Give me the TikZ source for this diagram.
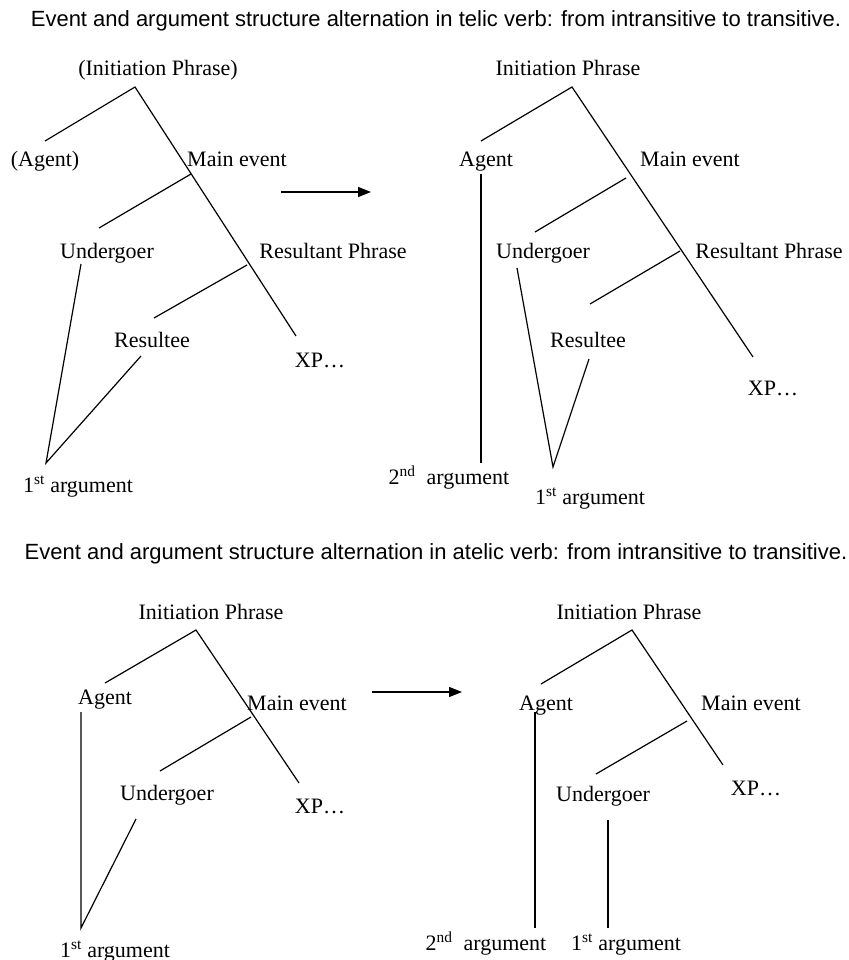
\documentclass[tikz,border=0pt]{standalone}
\usepackage{fontspec}
\setmainfont{Liberation Serif}
\newfontfamily\titlefont{Liberation Sans}
\usetikzlibrary{arrows.meta}
\begin{document}
\begin{tikzpicture}[x=1pt,y=-1pt,
  lbl/.style={font=\fontsize{22}{26}\selectfont, inner sep=0pt, anchor=base},
  ttl/.style={font=\titlefont\fontsize{22}{26}\selectfont, inner sep=0pt, anchor=base},
  br/.style={line width=1.2pt, black},
  arr/.style={line width=1.2pt, -{Triangle[length=13pt,width=10pt]}}]
\useasboundingbox[fill=white] (0,0) rectangle (848,960);

% titles
\node[ttl] (t1) at (436,27) {Event and argument structure alternation in telic verb: from intransitive to transitive.};
\node[ttl] (t2) at (436,559) {Event and argument structure alternation in atelic verb: from intransitive to transitive.};

% ---------- top-left ----------
\node[lbl] (tlIP) at (158,76) {(Initiation Phrase)};
\node[lbl] (tlAg) at (45,167) {(Agent)};
\node[lbl] (tlME) at (237,167) {Main event};
\node[lbl] (tlUn) at (107,258) {Undergoer};
\node[lbl] (tlRP) at (333,258) {Resultant Phrase};
\node[lbl] (tlRe) at (152,347) {Resultee};
\node[lbl] (tlXP) at (320,367) {XP…};
\node[lbl] (tlA1) at (78,492) {1\textsuperscript{st} argument};
\coordinate (tlr) at (135,87);
\coordinate (tla) at (45,141);
\coordinate (tlx) at (296,336);
\coordinate (tlm) at (191,174);
\coordinate (tlu) at (99,228);
\coordinate (tlrp) at (247,265);
\coordinate (tlre) at (154,318);
\coordinate (tlu2) at (81,264);
\coordinate (tlre2) at (141,356);
\coordinate (tl1) at (46,463);
\draw[br] (tla) -- (tlr) -- (tlx);
\draw[br] (tlm) -- (tlu);
\draw[br] (tlrp) -- (tlre);
\draw[br] (tlu2) -- (tl1) -- (tlre2);

% arrow top
\coordinate (a1s) at (281,192);
\coordinate (a1e) at (371,192);
\draw[arr] (a1s) -- (a1e);

% ---------- top-right ----------
\node[lbl] (trIP) at (568,76) {Initiation Phrase};
\node[lbl] (trAg) at (486,167) {Agent};
\node[lbl] (trME) at (690,167) {Main event};
\node[lbl] (trUn) at (543,258) {Undergoer};
\node[lbl] (trRP) at (769,258) {Resultant Phrase};
\node[lbl] (trRe) at (588,347) {Resultee};
\node[lbl] (trXP) at (773,395) {XP…};
\node[lbl] (trA2) at (449,484) {2\textsuperscript{nd}~ argument};
\node[lbl] (trA1) at (590,504) {1\textsuperscript{st} argument};
\coordinate (trr) at (572,87);
\coordinate (tra) at (481,141);
\coordinate (trx) at (753,357);
\coordinate (trm) at (626,178);
\coordinate (tru) at (535,232);
\coordinate (trrp) at (680,251);
\coordinate (trre) at (590,304);
\coordinate (trag) at (481,174);
\coordinate (tr2) at (481,463);
\coordinate (tru2) at (517,268);
\coordinate (tr1) at (553,467);
\coordinate (trre2) at (589,359);
\draw[br] (tra) -- (trr) -- (trx);
\draw[br] (trm) -- (tru);
\draw[br] (trrp) -- (trre);
\draw[br] (trag) -- (tr2);
\draw[br] (tru2) -- (tr1) -- (trre2);

% ---------- bottom-left ----------
\node[lbl] (blIP) at (211,619) {Initiation Phrase};
\node[lbl] (blAg) at (105,704) {Agent};
\node[lbl] (blME) at (297,710) {Main event};
\node[lbl] (blUn) at (167,800) {Undergoer};
\node[lbl] (blXP) at (320,813) {XP…};
\node[lbl] (blA1) at (115,957) {1\textsuperscript{st} argument};
\coordinate (blr) at (196,630);
\coordinate (bla) at (105,683);
\coordinate (blx) at (299,783);
\coordinate (blm) at (251,717);
\coordinate (blu) at (160,771);
\coordinate (blag) at (81,712);
\coordinate (bl1) at (81,928);
\coordinate (blu2) at (136,819);
\draw[br] (bla) -- (blr) -- (blx);
\draw[br] (blm) -- (blu);
\draw[br] (blag) -- (bl1) -- (blu2);

% arrow bottom
\coordinate (a2s) at (372,692);
\coordinate (a2e) at (462,692);
\draw[arr] (a2s) -- (a2e);

% ---------- bottom-right ----------
\node[lbl] (brIP) at (629,619) {Initiation Phrase};
\node[lbl] (brAg) at (546,710) {Agent};
\node[lbl] (brME) at (751,710) {Main event};
\node[lbl] (brUn) at (603,801) {Undergoer};
\node[lbl] (brXP) at (756,795) {XP…};
\node[lbl] (brA2) at (486,950) {2\textsuperscript{nd}~ argument};
\node[lbl] (brA1) at (626,950) {1\textsuperscript{st} argument};
\coordinate (brr) at (632,630);
\coordinate (bra) at (541,684);
\coordinate (brx) at (723,765);
\coordinate (brm) at (687,721);
\coordinate (bru) at (596,774);
\coordinate (brag) at (535,712);
\coordinate (br2) at (535,928);
\coordinate (bru2) at (608,820);
\coordinate (br1) at (608,928);
\draw[br] (bra) -- (brr) -- (brx);
\draw[br] (brm) -- (bru);
\draw[br] (brag) -- (br2);
\draw[br] (bru2) -- (br1);
\end{tikzpicture}
\end{document}
